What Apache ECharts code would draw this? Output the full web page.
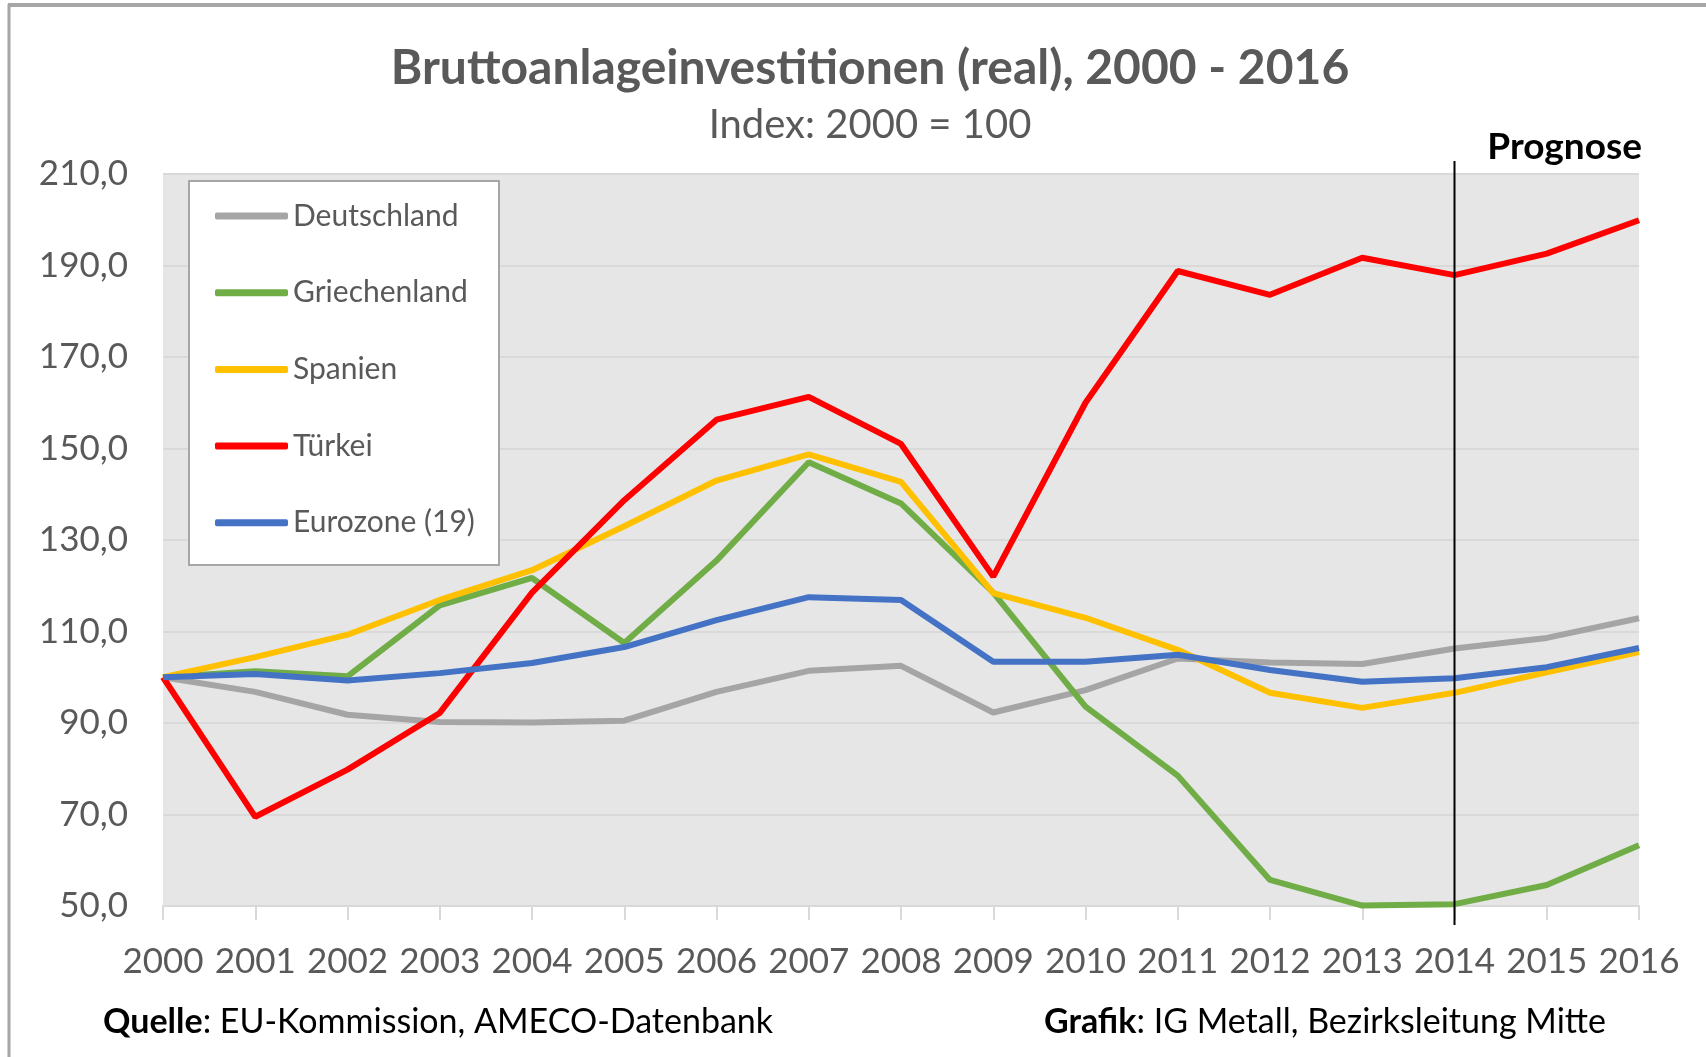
<!DOCTYPE html>
<html>
<head>
<meta charset="utf-8">
<title>Bruttoanlageinvestitionen</title>
<script src="https://cdn.jsdelivr.net/npm/echarts@6/dist/echarts.min.js"></script>
<style>
  html, body { margin: 0; padding: 0; background: #fff; }
  #chart { width: 1706px; height: 1057px; }
</style>
</head>
<body>
<div id="chart"></div>
<script>
// Jahre und Indexwerte (2000 = 100)
var years = ['2000', '2001', '2002', '2003', '2004', '2005', '2006', '2007', '2008',
             '2009', '2010', '2011', '2012', '2013', '2014', '2015', '2016'];
var deutschland  = [100, 96.8, 91.8, 90.2, 90.1, 90.5, 96.8, 101.4, 102.5, 92.3, 97.2, 104.1, 103.2, 102.9, 106.3, 108.6, 112.9];
var griechenland = [100, 101.3, 100.2, 115.7, 121.7, 107.5, 125.5, 147, 138, 118.5, 93.6, 78.5, 55.7, 50.1, 50.4, 54.6, 63.3];
var spanien      = [100, 104.4, 109.3, 116.9, 123.4, 133, 143, 148.7, 142.7, 118.4, 113, 106, 96.6, 93.3, 96.6, 101.1, 105.5];
var tuerkei      = [100, 69.5, 79.8, 92.2, 118.5, 138.7, 156.3, 161.3, 151, 122, 160, 188.8, 183.6, 191.7, 187.9, 192.6, 199.9];
var eurozone     = [100, 100.7, 99.3, 100.9, 103.1, 106.6, 112.5, 117.5, 116.9, 103.4, 103.4, 104.9, 101.6, 99, 99.8, 102.2, 106.4];
var prognoseYear = '2014';

var fontFam = 'Lato, "Open Sans", sans-serif';
var myChart = echarts.init(document.getElementById('chart'));

function lineSeries(name, data, color) {
    return {
        name: name,
        type: 'line',
        data: data,
        symbol: 'none',
        smooth: false,
        lineStyle: { color: color, width: 6 },
        itemStyle: { color: color }
    };
}

var option = {
    backgroundColor: '#ffffff',
    animation: false,
    title: [
        {
            text: 'Bruttoanlageinvestitionen (real), 2000 - 2016',
            left: 865, top: 40, textAlign: 'center',
            textStyle: { color: '#595959', fontSize: 48, fontWeight: 'bold', fontFamily: fontFam }
        },
        {
            text: 'Index: 2000 = 100',
            left: 865, top: 100, textAlign: 'center',
            textStyle: { color: '#595959', fontSize: 40, fontWeight: 'normal', fontFamily: fontFam }
        },
        {
            text: 'Prognose',
            left: 1637, top: 124, textAlign: 'right',
            textStyle: { color: '#000000', fontSize: 37, fontWeight: 'bold', fontFamily: fontFam }
        }
    ],
    grid: { left: 163, right: 67, top: 174, bottom: 151, containLabel: false,
            show: true, backgroundColor: '#e6e6e6', borderWidth: 0 },
    legend: {
        orient: 'vertical',
        left: 215, top: 201,
        padding: 0,
        icon: 'roundRect',
        itemWidth: 73, itemHeight: 7,
        itemGap: 46.7,
        z: 5,
        textStyle: { color: '#595959', fontSize: 30, fontFamily: fontFam, lineHeight: 30, padding: [0, 0, 0, 0] },
        data: ['Deutschland', 'Griechenland', 'Spanien', 'Türkei', 'Eurozone (19)']
    },
    xAxis: {
        type: 'category',
        data: years,
        boundaryGap: false,
        axisLine: { lineStyle: { color: '#d9d9d9', width: 2 } },
        axisTick: { show: true, length: 14, lineStyle: { color: '#d9d9d9', width: 2 } },
        axisLabel: { color: '#595959', fontSize: 35, fontFamily: fontFam, margin: 38, interval: 0 },
        splitLine: { show: false }
    },
    yAxis: {
        type: 'value',
        min: 50, max: 210, interval: 20,
        axisLine: { show: false },
        axisTick: { show: false },
        axisLabel: {
            color: '#595959', fontSize: 35, fontFamily: fontFam, margin: 35,
            formatter: function (v) { return v.toFixed(1).replace('.', ','); }
        },
        splitLine: { lineStyle: { color: '#d9d9d9', width: 2 } }
    },
    series: [
        lineSeries('Deutschland', deutschland, '#a5a5a5'),
        lineSeries('Griechenland', griechenland, '#70ad47'),
        lineSeries('Spanien', spanien, '#ffc000'),
        lineSeries('Türkei', tuerkei, '#ff0000'),
        lineSeries('Eurozone (19)', eurozone, '#4472c4')
    ]
};

myChart.setOption(option);

// Legendenkasten, Prognose-Linie, Rahmen und Fußzeile
var px = myChart.convertToPixel({ xAxisIndex: 0 }, prognoseYear);
myChart.setOption({
    graphic: [
        {
            type: 'rect', z: 4,
            shape: { x: 189, y: 181, width: 310, height: 384 },
            style: { fill: '#ffffff', stroke: '#a6a6a6', lineWidth: 2 }
        },
        {
            type: 'line', z: 6,
            shape: { x1: px, y1: 161, x2: px, y2: 925 },
            style: { stroke: '#000000', lineWidth: 2 }
        },
        {
            type: 'line', z: 6,
            shape: { x1: 8, y1: 5, x2: 1706, y2: 5 },
            style: { stroke: '#a6a6a6', lineWidth: 4 }
        },
        {
            type: 'line', z: 6,
            shape: { x1: 9, y1: 4, x2: 9, y2: 1057 },
            style: { stroke: '#a6a6a6', lineWidth: 3 }
        },
        {
            type: 'text', z: 6,
            left: 103, top: 1005,
            style: {
                text: '{b|Quelle}: EU-Kommission, AMECO-Datenbank',
                fill: '#000000', fontSize: 34, fontFamily: fontFam,
                rich: { b: { fontWeight: 'bold', fontSize: 34, fontFamily: fontFam, fill: '#000000' } }
            }
        },
        {
            type: 'text', z: 6,
            left: 1044, top: 1005,
            style: {
                text: '{b|Grafik}: IG Metall, Bezirksleitung Mitte',
                fill: '#000000', fontSize: 34, fontFamily: fontFam,
                rich: { b: { fontWeight: 'bold', fontSize: 34, fontFamily: fontFam, fill: '#000000' } }
            }
        }
    ]
});
</script>
</body>
</html>
